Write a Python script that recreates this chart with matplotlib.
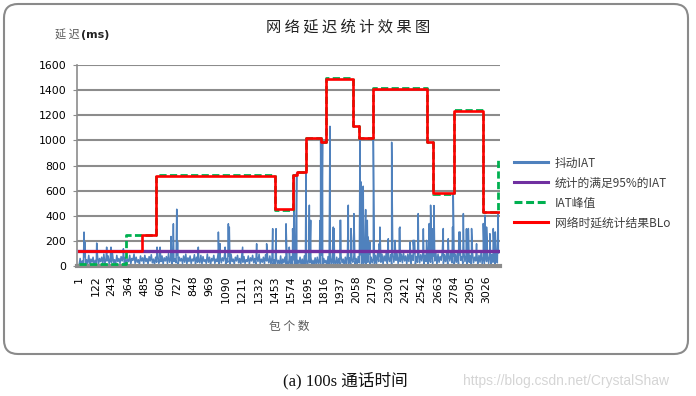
import matplotlib
matplotlib.use('Agg')
import matplotlib.pyplot as plt
from matplotlib.patches import FancyBboxPatch
import numpy as np

plt.rcParams['font.family'] = ['DejaVu Sans', 'Noto Sans CJK SC']
CJK = ['Noto Sans CJK SC', 'DejaVu Sans']

# packet count axis
n_packets = 3120
tick_step = 121

jitter_base = [
    5, 60, 10, 40, 0, 75, 15, 50, 20, 85, 10, 55, 30, 70, 5, 45, 25, 90, 10, 60,
    35, 70, 15, 95, 20, 55, 40, 80, 10, 65, 30, 100, 25, 50, 15, 85, 35, 60, 20, 75,
    40, 90, 10, 70, 25, 55, 35, 85, 15, 60, 45, 95, 20, 70, 30, 50, 10, 80, 40, 65,
    20, 85, 35, 60, 15, 75, 40, 90, 25, 55, 10, 70, 30, 95, 20, 50, 35, 80, 15, 65,
    40, 75, 20, 100, 30, 60, 10, 85, 35, 55, 25, 90, 15, 70, 40, 60, 20, 80, 30, 95,
    15, 65, 35, 80, 20, 55, 40, 90, 10, 70, 30, 60, 25, 85, 15, 75, 35, 50, 20, 95,
    30, 70, 10, 60, 40, 85, 20, 55, 35, 100, 15, 75, 25, 65, 40, 90, 10, 60, 30, 80,
    20, 95, 35, 55, 15, 70, 40, 85, 25, 60, 10, 90, 30, 75, 20, 50, 35, 80, 15, 65,
    40, 85, 25, 60, 10, 75, 35, 95, 20, 55, 30, 70, 15, 90, 40, 60, 25, 80, 10, 70,
    5, 50, 0, 65, 20, 45, 5, 80, 0, 55, 25, 70, 10, 40, 0, 60, 15, 75, 5, 50,
    10, 65, 0, 45, 20, 70, 5, 55, 0, 80, 15, 50, 5, 60, 25, 75, 0, 45, 10, 65,
    5, 70, 20, 55, 0, 85, 10, 60, 25, 45, 0, 75, 15, 65, 5, 90, 20, 50, 0, 70,
    15, 60, 5, 80, 25, 55, 0, 70, 10, 95, 20, 65, 5, 50, 30, 85, 0, 60, 15, 75,
    25, 90, 5, 65, 20, 80, 0, 55, 30, 95, 10, 70, 25, 60, 5, 85, 20, 100, 35, 75,
    30, 95, 15, 80, 40, 105, 20, 70, 35, 90, 10, 110, 30, 85, 45, 100, 20, 75, 35, 95,
    25, 105, 40, 80, 15, 95, 35, 110, 20, 85, 45, 100, 10, 75, 30, 115, 25, 90, 40, 105,
    15, 85, 35, 100, 5, 90, 30, 110, 20, 80, 40, 105, 10, 95, 30, 75, 45, 115, 20, 90,
    35, 100, 10, 85, 40, 110, 25, 80, 5, 95, 30, 105, 15, 90, 45, 75, 20, 110, 35, 85,
    10, 95, 30, 80, 0, 105, 25, 70, 40, 100, 5, 85, 30, 110, 15, 75, 0, 95, 35, 80,
    20, 100, 5, 90, 30, 110, 0, 85, 25, 105,
]
base_step = 8

# jitter IAT spikes: packet index and delay (ms)
spike_idx = [38, 45, 132, 206, 238, 330, 580, 602, 684, 701, 726, 732, 886,
             1035, 1048, 1085, 1109, 1116, 1215, 1319, 1393, 1438, 1463, 1537,
             1561, 1586, 1596, 1616, 1685, 1710, 1720, 1789, 1794, 1808, 1863,
             1888, 1893, 1937, 1943, 1999, 2019, 2024, 2041, 2086, 2093, 2110,
             2128, 2140, 2147, 2160, 2185, 2229, 2234, 2296, 2321, 2345, 2377,
             2383, 2457, 2481, 2490, 2518, 2556, 2580, 2600, 2610, 2625, 2635,
             2704, 2741, 2773, 2778, 2820, 2828, 2853, 2876, 2890, 2914, 2951,
             3001, 3013, 3025, 3050, 3075, 3090, 3112]
spike_val = [270, 190, 183, 150, 150, 137, 150, 150, 235, 336, 452, 190, 150,
             270, 177, 150, 336, 310, 150, 177, 177, 297, 297, 336,
             150, 297, 710, 740, 750, 484, 364, 362, 1002, 989, 1112,
             310, 298, 362, 364, 484, 298, 217, 417, 1015, 670, 635,
             449, 364, 230, 190, 1015, 178, 310, 217, 985, 204, 298,
             310, 190, 205, 204, 417, 296, 204, 338, 484, 296, 481,
             298, 217, 310, 577, 270, 271, 417, 296, 298, 298, 177,
             338, 404, 310, 257, 298, 271, 417]

# statistics curves
p95_iat = 120
peak_edges = [1, 350, 572, 1455, 1586, 1615, 1685, 1796, 1834, 2036, 2081,
              2185, 2580, 2629, 2783, 3001, 3112, 3120]
peak_levels = [12, 245, 722, 448, 722, 752, 1022, 985, 1500, 1112, 1020,
               1420, 985, 570, 1238, 428, 860]
blo_edges = [1, 466, 572, 1455, 1586, 1615, 1685, 1796, 1834, 2036, 2081,
             2185, 2580, 2629, 2783, 3001, 3120]
blo_levels = [122, 245, 718, 455, 722, 750, 1015, 990, 1490, 1112, 1015,
              1412, 988, 578, 1232, 428]

blue = '#4F81BD'
purple = '#7030A0'
green = '#00B050'
red = '#FF0000'
gridc = '#8C8C8C'

fig = plt.figure(figsize=(6.96, 3.96), dpi=100, facecolor='white')
ax = fig.add_axes([77.3 / 696, 1 - 266 / 396, (500 - 77.3) / 696, (266 - 65) / 396])

# merge base noise and spikes into one series
base_x = 1 + base_step * np.arange(len(jitter_base))
xs = np.concatenate([base_x, spike_idx])
ys = np.concatenate([jitter_base, spike_val])
order = np.argsort(xs, kind='stable')
ax.plot(xs[order], ys[order], color=blue, lw=1.1, label='抖动IAT', zorder=2)

ax.plot([1, n_packets], [p95_iat, p95_iat], color=purple, lw=2.4,
        label='统计的满足95%的IAT', zorder=3)
ax.step(peak_edges, peak_levels + [peak_levels[-1]], where='post', color=green,
        lw=2, ls=(0, (2.6, 1.2)), label='IAT峰值', zorder=4)
ax.step(blo_edges, blo_levels + [blo_levels[-1]], where='post', color=red,
        lw=1.9, label='网络时延统计结果BLo', zorder=5)

ax.set_xlim(-12, 3125)
ax.set_ylim(0, 1600)
ax.set_yticks(np.arange(0, 1601, 200))
ax.set_xticks(np.arange(1, n_packets, tick_step))
ax.tick_params(axis='y', labelsize=7.8, length=3, color=gridc, pad=5)
ax.tick_params(axis='x', labelsize=7.8, length=0, rotation=90, pad=7)
ax.grid(axis='y', color=gridc, lw=1.5, zorder=0)
ax.set_axisbelow(True)
for s in ['top', 'right']:
    ax.spines[s].set_visible(False)
ax.spines['left'].set_color(gridc)
ax.spines['left'].set_linewidth(1.2)
ax.spines['bottom'].set_color(gridc)
ax.spines['bottom'].set_linewidth(3)

leg = ax.legend(loc='center left', bbox_to_anchor=(503 / 696, 1 - 193 / 396),
                bbox_transform=fig.transFigure, frameon=False,
                prop={'family': CJK, 'size': 8.5}, handlelength=2.9,
                labelspacing=0.6, handletextpad=0.6)
for t in leg.get_texts():
    t.set_color('#404040')
for h in leg.get_lines():
    h.set_linewidth(2.2)

fig.text(348 / 696, 1 - 27 / 396, '网 络 延 迟 统 计 效 果 图', ha='center', va='center',
         family=CJK, fontsize=11, color='#222222')
fig.text(55 / 696, 1 - 35 / 396, '延 迟', ha='left', va='center',
         family=CJK, fontsize=8, color='#595959')
fig.text(81 / 696, 1 - 35 / 396, '(ms)', ha='left', va='center',
         fontsize=8, fontweight='bold', color='#222222')
fig.text(289 / 696, 1 - 326 / 396, '包 个 数', ha='center', va='center',
         family=CJK, fontsize=8.5, color='#595959')

frame = FancyBboxPatch((4, 396 - 354), 684, 350,
                       boxstyle='round,pad=0,rounding_size=14',
                       transform=None, facecolor='none', edgecolor='#8A8A8A', lw=1.5)
fig.patches.append(frame)

fig.text(345 / 696, 1 - 381 / 396, '(a) 100s 通话时间', ha='center', va='center',
         family=['Liberation Serif', 'Noto Sans CJK SC'], fontsize=12, color='#111111')
fig.text(566 / 696, 1 - 381 / 396, 'https://blog.csdn.net/CrystalShaw', ha='center',
         va='center', family='Liberation Sans', fontsize=10, color='#D5D5D5')

fig.savefig('out.png', dpi=100)
